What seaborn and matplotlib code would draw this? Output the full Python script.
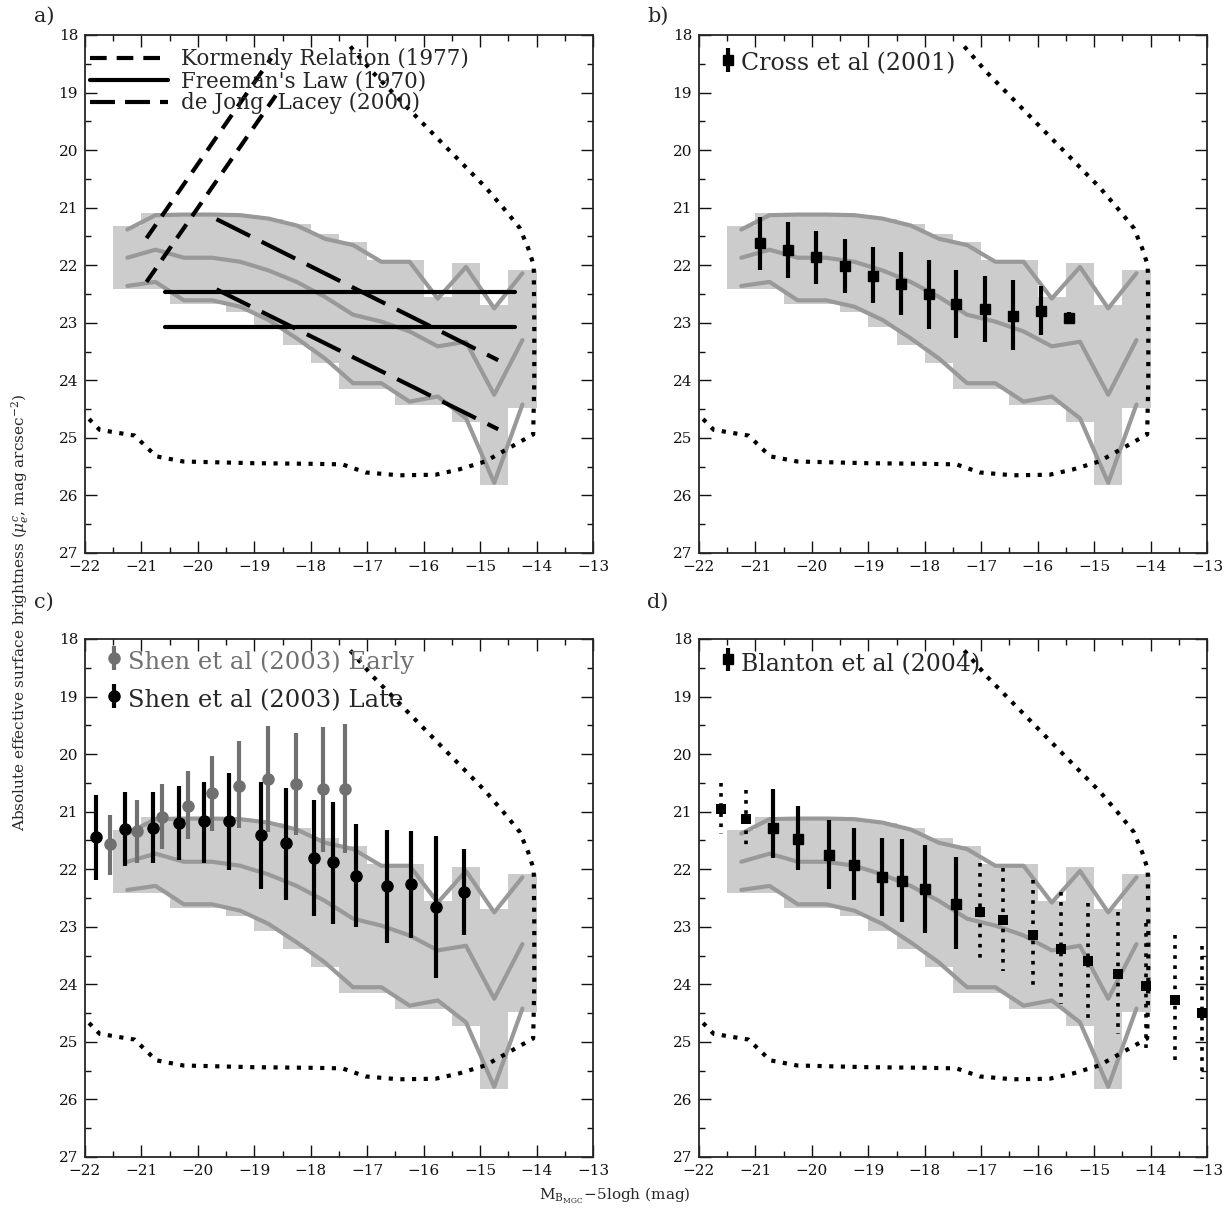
import matplotlib
matplotlib.use("Agg")
import matplotlib.pyplot as plt
import seaborn as sns
import pandas as pd
from matplotlib.lines import Line2D

# ---------------- data ----------------
bin_edges = [-21.5, -21.0, -20.5, -20.0, -19.5, -19.0, -18.5, -18.0, -17.5,
             -17.0, -16.5, -16.0, -15.5, -15.0, -14.5, -14.0]
bin_centers = [-21.25, -20.75, -20.25, -19.75, -19.25, -18.75, -18.25, -17.75,
               -17.25, -16.75, -16.25, -15.75, -15.25, -14.75, -14.25]
band_top = [21.32, 21.09, 21.09, 21.09, 21.12, 21.19, 21.28, 21.45, 21.59,
            21.91, 21.91, 22.55, 21.96, 22.69, 22.09]
band_bottom = [22.41, 22.41, 22.67, 22.67, 22.81, 23.07, 23.38, 23.70, 24.15,
               24.15, 24.42, 24.42, 24.72, 25.81, 24.48]
upper_q = [21.38, 21.13, 21.12, 21.12, 21.13, 21.19, 21.31, 21.54, 21.65,
           21.94, 21.94, 22.58, 22.03, 22.75, 22.14]
median_q = [21.87, 21.73, 21.87, 21.87, 21.94, 22.09, 22.29, 22.55, 22.86,
            22.98, 23.15, 23.41, 23.33, 24.25, 23.30]
lower_q = [22.36, 22.29, 22.61, 22.61, 22.72, 22.95, 23.27, 23.62, 24.05,
           24.05, 24.37, 24.28, 24.66, 25.78, 24.42]

limit_x = [-17.30, -16.90, -16.40, -15.90, -15.40, -14.90, -14.55, -14.30, -14.15,
           -14.05, -14.04, -14.04, -14.06, -14.44, -14.91, -15.38, -15.79, -16.44,
           -17.03, -17.44, -18.00, -19.00, -20.26, -20.74, -21.12, -21.74, -22.00]
limit_y = [18.20, 18.65, 19.15, 19.65, 20.15, 20.65, 21.05, 21.35, 21.70,
           22.00, 23.00, 24.00, 24.94, 25.15, 25.41, 25.55, 25.64, 25.65,
           25.60, 25.46, 25.45, 25.44, 25.41, 25.32, 24.96, 24.86, 24.60]

# panel a relations
kormendy1_x = [-20.91, -18.70]
kormendy1_y = [21.53, 18.40]
kormendy2_x = [-20.91, -18.62]
kormendy2_y = [22.29, 19.05]
freeman_x = [-20.58, -14.38]
freeman1_y = [22.47, 22.47]
freeman2_y = [23.07, 23.07]
dejong_x = [-19.67, -14.68]
dejong1_y = [21.20, 23.65]
dejong2_y = [22.42, 24.85]

# panel b: Cross et al (2001)
cross_x = [-20.92, -20.42, -19.92, -19.42, -18.92, -18.43, -17.93, -17.44,
           -16.94, -16.44, -15.94, -15.44]
cross_y = [21.61, 21.73, 21.85, 22.01, 22.18, 22.32, 22.50, 22.67, 22.76,
           22.88, 22.79, 22.91]
cross_hi = [21.17, 21.25, 21.40, 21.55, 21.69, 21.77, 21.91, 22.09, 22.19,
            22.26, 22.36, 22.81]
cross_lo = [22.09, 22.23, 22.32, 22.49, 22.66, 22.86, 23.10, 23.27, 23.33,
            23.48, 23.22, 23.01]

# panel c: Shen et al (2003)
early_x = [-21.56, -21.07, -20.64, -20.18, -19.75, -19.27, -18.75, -18.26,
           -17.78, -17.39]
early_y = [21.57, 21.34, 21.09, 20.90, 20.67, 20.55, 20.43, 20.52, 20.61, 20.61]
early_hi = [21.06, 20.80, 20.52, 20.30, 20.03, 19.78, 19.51, 19.64, 19.53, 19.48]
early_lo = [22.10, 21.89, 21.65, 21.48, 21.33, 21.29, 21.35, 21.40, 21.70, 21.72]

late_x = [-21.81, -21.30, -20.79, -20.34, -19.89, -19.44, -18.89, -18.44,
          -17.94, -17.60, -17.19, -16.65, -16.22, -15.79, -15.28]
late_y = [21.44, 21.30, 21.28, 21.20, 21.17, 21.17, 21.40, 21.55, 21.80,
          21.88, 22.11, 22.29, 22.26, 22.66, 22.39]
late_hi = [20.71, 20.65, 20.66, 20.56, 20.48, 20.33, 20.48, 20.59, 20.80,
           20.84, 21.21, 21.31, 21.33, 21.42, 21.65]
late_lo = [22.19, 21.94, 21.90, 21.84, 21.89, 22.01, 22.35, 22.53, 22.82,
           22.95, 23.00, 23.29, 23.20, 23.89, 23.15]

# panel d: Blanton et al (2004)
blanton_x = [-21.61, -21.16, -20.69, -20.25, -19.70, -19.25, -18.75, -18.41,
             -18.00, -17.45, -17.02, -16.61, -16.09, -15.58, -15.10, -14.58,
             -14.08, -13.57, -13.08]
blanton_y = [20.95, 21.13, 21.28, 21.47, 21.75, 21.92, 22.13, 22.20, 22.34,
             22.60, 22.75, 22.89, 23.14, 23.38, 23.59, 23.82, 24.03, 24.27, 24.49]
blanton_hi = [20.50, 20.62, 20.60, 20.91, 21.14, 21.29, 21.46, 21.48, 21.58,
              21.79, 21.90, 21.98, 22.18, 22.39, 22.58, 22.75, 22.94, 23.14, 23.34]
blanton_lo = [21.38, 21.61, 21.81, 22.02, 22.35, 22.53, 22.81, 22.92, 23.10,
              23.39, 23.62, 23.77, 24.08, 24.34, 24.60, 24.87, 25.12, 25.39, 25.65]
blanton_solid = [False, False, True, True, True, True, True, True, True, True,
                 False, False, False, False, False, False, False, False, False]

x_major = [-22, -21, -20, -19, -18, -17, -16, -15, -14, -13]
x_minor = [-21.5, -20.5, -19.5, -18.5, -17.5, -16.5, -15.5, -14.5, -13.5]
y_major = [18, 19, 20, 21, 22, 23, 24, 25, 26, 27]
y_minor = [18.5, 19.5, 20.5, 21.5, 22.5, 23.5, 24.5, 25.5, 26.5]

# ---------------- style ----------------
sns.set_style("ticks")
plt.rcParams['font.family'] = ['DejaVu Serif']
plt.rcParams['mathtext.fontset'] = 'dejavuserif'

SHADE = '#cccccc'
LINEGREY = '#999999'
EARLY = '#707070'

W, H = 1230, 1216
fig = plt.figure(figsize=(W / 100, H / 100), dpi=100)


def axbox(l, t, r, b):
    return [l / W, 1 - b / H, (r - l) / W, (b - t) / H]


boxes = {'a': (85, 35, 593, 553), 'b': (699, 35, 1207, 553),
         'c': (85, 639, 593, 1157), 'd': (699, 639, 1207, 1157)}
axes = {k: fig.add_axes(axbox(*v)) for k, v in boxes.items()}

DOTS = (0, (1, 1.8))


def base(ax):
    top = band_top + [band_top[-1]]
    bot = band_bottom + [band_bottom[-1]]
    ax.fill_between(bin_edges, top, bot, step='post', color=SHADE, lw=0, zorder=1)
    df = pd.DataFrame({'M': bin_centers, 'upper': upper_q,
                       'median': median_q, 'lower': lower_q})
    for col in ['upper', 'median', 'lower']:
        sns.lineplot(data=df, x='M', y=col, ax=ax, color=LINEGREY, lw=3,
                     zorder=2, estimator=None, sort=False)
    ax.plot(limit_x, limit_y, color='k', lw=3, ls=DOTS, zorder=3)
    ax.set_xlim(-22, -13)
    ax.set_ylim(27, 18)
    ax.set_xticks(x_major)
    ax.set_xticks(x_minor, minor=True)
    ax.set_yticks(y_major)
    ax.set_yticks(y_minor, minor=True)
    ax.tick_params(which='both', direction='in', top=True, right=True,
                   labelsize=11, width=1.0, colors='#111111')
    ax.tick_params(which='major', length=8.5, pad=5)
    ax.tick_params(which='minor', length=4.5)
    ax.set_xlabel('')
    ax.set_ylabel('')
    for s in ax.spines.values():
        s.set_linewidth(1.3)


for ax in axes.values():
    base(ax)

# ---- panel a ----
ax = axes['a']
KDASH = (0, (4, 2.4))
LDASH = (0, (9, 3.1))
ax.plot(kormendy1_x, kormendy1_y, color='k', lw=3, ls=KDASH, zorder=4)
ax.plot(kormendy2_x, kormendy2_y, color='k', lw=3, ls=KDASH, zorder=4)
ax.plot(freeman_x, freeman1_y, color='k', lw=3, zorder=4)
ax.plot(freeman_x, freeman2_y, color='k', lw=3, zorder=4)
ax.plot(dejong_x, dejong1_y, color='k', lw=3, ls=LDASH, zorder=4)
ax.plot(dejong_x, dejong2_y, color='k', lw=3, ls=LDASH, zorder=4)
handles = [Line2D([], [], color='k', lw=3, ls=KDASH),
           Line2D([], [], color='k', lw=3),
           Line2D([], [], color='k', lw=3, ls=(0, (6, 2.4)))]
labels = ['Kormendy Relation (1977)', "Freeman's Law (1970)", 'de Jong  Lacey (2000)']
ax.legend(handles, labels, loc='upper left', bbox_to_anchor=(5 / 508, 1 - 13 / 518),
          borderaxespad=0, borderpad=0, frameon=False, fontsize=15.5,
          handlelength=3.6, handletextpad=0.62, labelspacing=0.0)

# ---- panel b ----
ax = axes['b']
ax.errorbar(cross_x, cross_y,
            yerr=[[y - h for y, h in zip(cross_y, cross_hi)],
                  [l - y for y, l in zip(cross_y, cross_lo)]],
            fmt='s', color='k', ms=6.5, elinewidth=3, capsize=0, zorder=5,
            label='Cross et al (2001)')
ax.legend(loc='upper left', bbox_to_anchor=(17 / 508, 1 - 14 / 518), borderaxespad=0,
          borderpad=0, frameon=False, fontsize=17, handlelength=1.0,
          handleheight=1.4, handletextpad=0.05)

# ---- panel c ----
ax = axes['c']
ax.errorbar(early_x, early_y,
            yerr=[[y - h for y, h in zip(early_y, early_hi)],
                  [l - y for y, l in zip(early_y, early_lo)]],
            fmt='o', color=EARLY, ms=8, elinewidth=3, capsize=0, zorder=5,
            label='Shen et al (2003) Early')
ax.errorbar(late_x, late_y,
            yerr=[[y - h for y, h in zip(late_y, late_hi)],
                  [l - y for y, l in zip(late_y, late_lo)]],
            fmt='o', color='k', ms=8, elinewidth=3, capsize=0, zorder=6,
            label='Shen et al (2003) Late')
leg = ax.legend(loc='upper left', bbox_to_anchor=(17 / 508, 1 - 8 / 518), borderaxespad=0,
                borderpad=0, frameon=False, fontsize=17.5, handlelength=1.0,
                handleheight=1.4, handletextpad=0.05, labelspacing=0.4)
leg.get_texts()[0].set_color(EARLY)

# ---- panel d ----
ax = axes['d']
sx = [x for x, s in zip(blanton_x, blanton_solid) if s]
sy = [y for y, s in zip(blanton_y, blanton_solid) if s]
shi = [h for h, s in zip(blanton_hi, blanton_solid) if s]
slo = [l for l, s in zip(blanton_lo, blanton_solid) if s]
ax.errorbar(sx, sy, yerr=[[y - h for y, h in zip(sy, shi)], [l - y for y, l in zip(sy, slo)]],
            fmt='s', color='k', ms=6.5, elinewidth=3, capsize=0, zorder=5,
            label='Blanton et al (2004)')
dx = [x for x, s in zip(blanton_x, blanton_solid) if not s]
dy = [y for y, s in zip(blanton_y, blanton_solid) if not s]
dhi = [h for h, s in zip(blanton_hi, blanton_solid) if not s]
dlo = [l for l, s in zip(blanton_lo, blanton_solid) if not s]
ax.vlines(dx, dhi, dlo, color='k', lw=2.6, linestyles=[DOTS], zorder=5)
sns.scatterplot(x=dx, y=dy, ax=ax, marker='s', color='k', s=50, linewidth=0, zorder=6)
ax.legend(loc='upper left', bbox_to_anchor=(17 / 508, 1 - 9 / 518), borderaxespad=0,
          borderpad=0, frameon=False, fontsize=17, handlelength=1.0,
          handleheight=1.6, handletextpad=0.05)

# ---- labels ----
for k, (x, y) in {'a': (44, 16), 'b': (658, 16), 'c': (44, 602), 'd': (658, 602)}.items():
    fig.text(x / W, 1 - y / H, k + ')', fontsize=15, ha='center', va='center')

fig.text(20 / W, 1 - 612 / H,
         r'Absolute effective surface brightness ($\mu^{c}_{e}$, mag arcsec$^{-2}$)',
         rotation=90, ha='center', va='center', fontsize=11)
fig.text(615 / W, 1 - 1196 / H,
         r'$\mathrm{M}_{\mathrm{B}_{\mathrm{MGC}}}\!-\!5\mathrm{logh}$ (mag)',
         ha='center', va='center', fontsize=11)

fig.savefig('out.png', dpi=100)
